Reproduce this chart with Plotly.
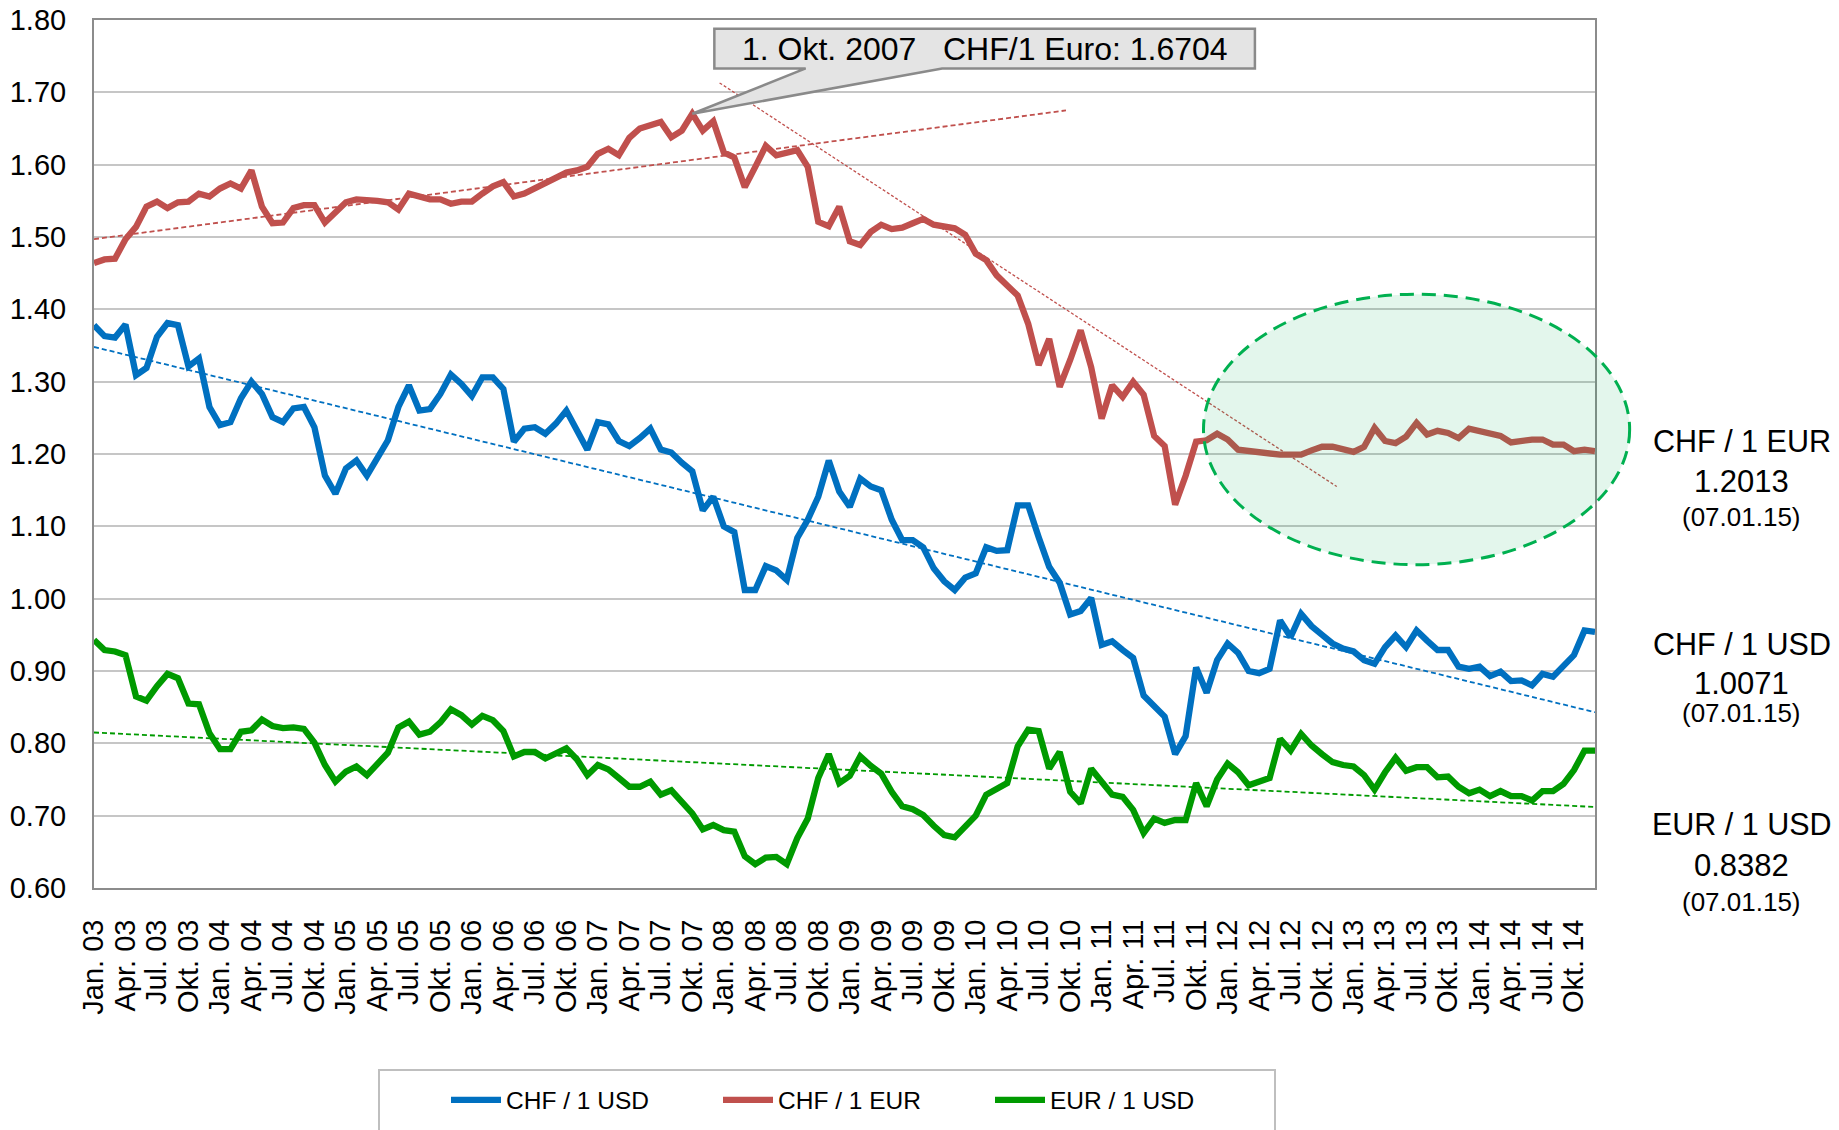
import plotly.graph_objects as go

# ---------------- data (monthly, Jan 2003 .. Dec 2014) ----------------
quarter_names = ["Jan.", "Apr.", "Jul.", "Okt."]
years = ["03", "04", "05", "06", "07", "08", "09", "10", "11", "12", "13", "14"]

chf_usd = [
    1.378, 1.363, 1.361, 1.379, 1.309, 1.319, 1.362, 1.381, 1.378, 1.321, 1.332, 1.265,
    1.240, 1.244, 1.277, 1.300, 1.283, 1.251, 1.244, 1.263, 1.265, 1.237, 1.170, 1.145,
    1.180, 1.191, 1.170, 1.196, 1.219, 1.265, 1.295, 1.260, 1.262, 1.283, 1.310, 1.297,
    1.280, 1.306, 1.306, 1.290, 1.217, 1.235, 1.237, 1.228, 1.242, 1.260, 1.235, 1.206,
    1.244, 1.241, 1.218, 1.211, 1.222, 1.235, 1.206, 1.202, 1.188, 1.176, 1.122, 1.141,
    1.100, 1.092, 1.012, 1.012, 1.045, 1.039, 1.026, 1.084, 1.109, 1.141, 1.191, 1.148,
    1.127, 1.166, 1.155, 1.150, 1.109, 1.081, 1.081, 1.071, 1.042, 1.024, 1.012, 1.029,
    1.035, 1.071, 1.066, 1.067, 1.129, 1.129, 1.085, 1.044, 1.022, 0.978, 0.983, 1.001,
    0.936, 0.941, 0.929, 0.918, 0.866, 0.852, 0.837, 0.785, 0.810, 0.905, 0.870, 0.915,
    0.938, 0.925, 0.900, 0.897, 0.903, 0.970, 0.947, 0.979, 0.962, 0.950, 0.938, 0.931,
    0.927, 0.915, 0.910, 0.933, 0.949, 0.933, 0.956, 0.942, 0.929, 0.929, 0.906, 0.903,
    0.906, 0.893, 0.899, 0.886, 0.887, 0.880, 0.896, 0.892, 0.906, 0.922, 0.956, 0.954,
]

chf_eur = [
    1.464, 1.469, 1.470, 1.497, 1.514, 1.542, 1.549, 1.540, 1.548, 1.549, 1.560, 1.556,
    1.567, 1.574, 1.567, 1.592, 1.542, 1.519, 1.520, 1.540, 1.544, 1.544, 1.520, 1.535,
    1.548, 1.552, 1.552, 1.550, 1.548, 1.538, 1.560, 1.555, 1.552, 1.552, 1.546, 1.549,
    1.549, 1.560, 1.570, 1.576, 1.556, 1.560, 1.567, 1.576, 1.582, 1.589, 1.592, 1.597,
    1.615, 1.622, 1.613, 1.637, 1.650, 1.655, 1.659, 1.638, 1.647, 1.6704, 1.647, 1.660,
    1.617, 1.610, 1.569, 1.597, 1.626, 1.613, 1.617, 1.620, 1.597, 1.521, 1.515, 1.542,
    1.494, 1.489, 1.507, 1.517, 1.511, 1.513, 1.519, 1.525, 1.517, 1.515, 1.512, 1.503,
    1.477, 1.468, 1.447, 1.433, 1.419, 1.380, 1.323, 1.359, 1.293, 1.330, 1.371, 1.320,
    1.249, 1.295, 1.279, 1.300, 1.282, 1.225, 1.211, 1.130, 1.170, 1.217, 1.219, 1.228,
    1.220, 1.206, 1.204, 1.203, 1.200, 1.199, 1.199, 1.199, 1.205, 1.210, 1.210, 1.207,
    1.203, 1.210, 1.236, 1.218, 1.215, 1.224, 1.243, 1.227, 1.232, 1.229, 1.222, 1.235,
    1.231, 1.228, 1.225, 1.216, 1.219, 1.220, 1.220, 1.213, 1.213, 1.204, 1.206, 1.204,
]

eur_usd = [
    0.943, 0.929, 0.927, 0.922, 0.865, 0.859, 0.879, 0.896, 0.890, 0.855, 0.854, 0.814,
    0.792, 0.792, 0.816, 0.818, 0.833, 0.824, 0.821, 0.822, 0.820, 0.801, 0.770, 0.747,
    0.761, 0.768, 0.756, 0.772, 0.787, 0.822, 0.830, 0.812, 0.816, 0.829, 0.847, 0.839,
    0.826, 0.838, 0.832, 0.817, 0.782, 0.788, 0.788, 0.779, 0.785, 0.793, 0.778, 0.756,
    0.770, 0.764, 0.752, 0.740, 0.740, 0.747, 0.729, 0.735, 0.719, 0.703, 0.681, 0.687,
    0.680, 0.678, 0.644, 0.633, 0.642, 0.643, 0.633, 0.669, 0.696, 0.752, 0.785, 0.745,
    0.755, 0.782, 0.769, 0.758, 0.733, 0.713, 0.709, 0.701, 0.686, 0.673, 0.670, 0.684,
    0.700, 0.729, 0.736, 0.745, 0.796, 0.819, 0.817, 0.765, 0.788, 0.733, 0.717, 0.765,
    0.747, 0.729, 0.726, 0.708, 0.676, 0.696, 0.690, 0.694, 0.694, 0.745, 0.713, 0.750,
    0.772, 0.760, 0.742, 0.747, 0.752, 0.806, 0.790, 0.813, 0.797, 0.785, 0.774, 0.770,
    0.768, 0.756, 0.736, 0.760, 0.780, 0.762, 0.767, 0.767, 0.753, 0.754, 0.740, 0.731,
    0.736, 0.727, 0.734, 0.727, 0.727, 0.721, 0.734, 0.734, 0.744, 0.763, 0.790, 0.790,
]

# trend lines (month index, value)
trend_chf_usd_x = [0, 143]
trend_chf_usd_y = [1.348, 0.843]
trend_eur_usd_x = [0, 143]
trend_eur_usd_y = [0.815, 0.712]
trend_chf_eur_up_x = [0, 92.6]
trend_chf_eur_up_y = [1.497, 1.675]
trend_chf_eur_down_x = [59.6, 118.4]
trend_chf_eur_down_y = [1.713, 1.155]

# highlighted peak (callout)
peak_index = 57
peak_value = 1.6704
peak_text = "1. Okt. 2007\u00a0\u00a0\u00a0CHF/1 Euro: 1.6704"

# latest quotes shown at the right side
side_labels = [("CHF / 1 EUR", "1.2013", "(07.01.15)"),
               ("CHF / 1 USD", "1.0071", "(07.01.15)"),
               ("EUR / 1 USD", "0.8382", "(07.01.15)")]

months = list(range(len(chf_usd)))
tick_positions = months[::3]
tick_labels = [f"{q} {y}" for y in years for q in quarter_names]

# ---------------- styling ----------------
BLUE = "#0070C0"
RED = "#C0504D"
GREEN = "#009A00"
FONT = "Liberation Sans, Arial, sans-serif"

W, H = 1839, 1130
PLOT_L, PLOT_T, PW, PH = 94, 20, 1501, 868     # plot area in page pixels
ML, MT = PLOT_L, PLOT_T
MR, MB = W - ML - PW, H - MT - PH
X_RANGE = [0, 143]
Y_RANGE = [0.6, 1.8]


def px_x(x):
    return (x - PLOT_L) / PW


def px_y(y):
    return (PLOT_T + PH - y) / PH


def data_to_paper_x(m):
    return (m - X_RANGE[0]) / (X_RANGE[1] - X_RANGE[0])


def data_to_paper_y(v):
    return (v - Y_RANGE[0]) / (Y_RANGE[1] - Y_RANGE[0])


fig = go.Figure()

series = [("CHF / 1 USD", chf_usd, BLUE),
          ("CHF / 1 EUR", chf_eur, RED),
          ("EUR / 1 USD", eur_usd, GREEN)]
for name, vals, col in series:
    fig.add_trace(go.Scatter(x=months, y=vals, mode="lines", name=name,
                             line=dict(color=col, width=6.3)))

trends = [(trend_chf_usd_x, trend_chf_usd_y, BLUE, "5px,3px", 1.8),
          (trend_eur_usd_x, trend_eur_usd_y, GREEN, "5px,3px", 1.8),
          (trend_chf_eur_up_x, trend_chf_eur_up_y, RED, "5px,3px", 1.8),
          (trend_chf_eur_down_x, trend_chf_eur_down_y, RED, "3px,2px", 1.3)]
for tx, ty, col, dash, w in trends:
    fig.add_trace(go.Scatter(x=tx, y=ty, mode="lines", showlegend=False,
                             hoverinfo="skip", line=dict(color=col, width=w, dash=dash)))

# ---------------- callout box with pointer ----------------
box_x0, box_x1 = 59.1, 110.6
box_y0, box_y1 = 1.733, 1.788
wedge_x0, wedge_x1 = 67.8, 80.8
path = (f"M {box_x0},{box_y1} L {box_x1},{box_y1} L {box_x1},{box_y0} "
        f"L {wedge_x1},{box_y0} L {peak_index},{peak_value} L {wedge_x0},{box_y0} "
        f"L {box_x0},{box_y0} Z")
shapes = [dict(type="path", path=path, xref="x", yref="y",
               fillcolor="#E4E4E4", line=dict(color="#8A8A8A", width=2.5), layer="above")]

# ellipse highlighting the EUR floor period (extends past plot frame)
ell_m0, ell_m1 = 105.7, 146.3
ell_v0, ell_v1 = 1.047, 1.421
shapes.append(dict(type="circle", xref="paper", yref="paper",
                   x0=data_to_paper_x(ell_m0), x1=data_to_paper_x(ell_m1),
                   y0=data_to_paper_y(ell_v0), y1=data_to_paper_y(ell_v1),
                   fillcolor="rgba(0,176,80,0.11)",
                   line=dict(color="#00B050", width=3, dash="14px,8px"), layer="above"))

# legend frame
shapes.append(dict(type="rect", xref="paper", yref="paper",
                   x0=px_x(379), x1=px_x(1275), y0=px_y(1160), y1=px_y(1070),
                   line=dict(color="#BFBFBF", width=2), fillcolor="rgba(0,0,0,0)"))

annotations = [dict(x=(box_x0 + box_x1) / 2, y=(box_y0 + box_y1) / 2, xref="x", yref="y",
                    xanchor="center", yanchor="middle",
                    text=peak_text, showarrow=False,
                    font=dict(size=32, color="#000000", family=FONT))]

group_y = [(441, 481, 517), (644, 683, 713), (824, 865, 902)]
for (name, val, date), (y1, y2, y3) in zip(side_labels, group_y):
    for txt, yy, sz in ((name, y1, 30.5), (val, y2, 31), (date, y3, 26)):
        annotations.append(dict(x=px_x(1742), y=px_y(yy), xref="paper", yref="paper",
                                xanchor="center", yanchor="middle",
                                text=txt, showarrow=False,
                                font=dict(size=sz, color="#000")))

annotations.append(dict(x=px_x(1706), y=px_y(1124), xref="paper", yref="paper",
                        xanchor="center", yanchor="top", text="24", showarrow=False,
                        font=dict(size=22, color="#000")))

fig.update_layout(
    width=W, height=H,
    margin=dict(l=ML, r=MR, t=MT, b=MB, autoexpand=False),
    paper_bgcolor="white", plot_bgcolor="white",
    font=dict(family=FONT, color="#000000"),
    shapes=shapes, annotations=annotations,
    showlegend=True,
    legend=dict(orientation="h", x=px_x(446), xanchor="left",
                y=px_y(1100), yanchor="middle",
                font=dict(size=24.5, color="#000"), bgcolor="rgba(0,0,0,0)",
                itemwidth=50, entrywidth=207, entrywidthmode="pixels",
                traceorder="normal"),
)

fig.update_xaxes(range=X_RANGE, tickvals=tick_positions, ticktext=tick_labels,
                 tickangle=-90, tickfont=dict(size=29, color="#000"),
                 showgrid=False, zeroline=False, showline=True, mirror=True,
                 linecolor="#8C8C8C", linewidth=2, ticks="", ticklabelstandoff=18,
                 ticklabeloverflow="allow")
fig.update_yaxes(range=Y_RANGE, dtick=0.1, tickformat=".2f",
                 tickfont=dict(size=29, color="#000"),
                 showgrid=True, gridcolor="#C6C6C6", gridwidth=2, zeroline=False,
                 showline=True, mirror=True, linecolor="#8C8C8C", linewidth=2,
                 ticks="", ticklabelstandoff=20, ticklabeloverflow="allow")

# the page's default body margin would offset the figure; remove it
fig.write_html("out.html", config={"displayModeBar": False},
               post_script="document.body.style.margin='0px';")
